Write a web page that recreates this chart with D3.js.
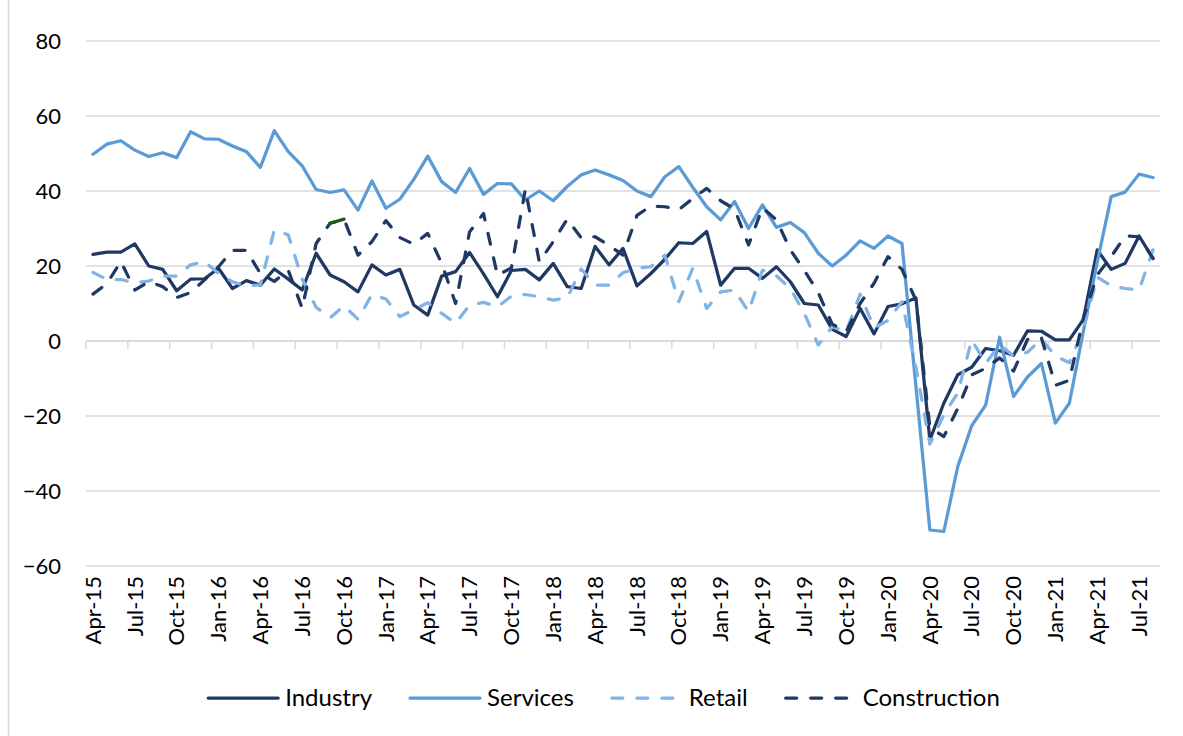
<!DOCTYPE html>
<html>
<head>
<meta charset="utf-8">
<script src="https://cdn.jsdelivr.net/npm/d3@7"></script>
<style>
    body { margin: 0; background: #fff; }
    svg text { font-family: Lato, "Open Sans", sans-serif; fill: #000; }
</style>
</head>
<body>
<svg id="chart" width="1183" height="736"></svg>
<script>
//monthly categories, Apr-15 to Aug-21
const months = [
    "Apr-15","May-15","Jun-15","Jul-15","Aug-15","Sep-15","Oct-15","Nov-15","Dec-15",
    "Jan-16","Feb-16","Mar-16","Apr-16","May-16","Jun-16","Jul-16","Aug-16","Sep-16","Oct-16","Nov-16","Dec-16",
    "Jan-17","Feb-17","Mar-17","Apr-17","May-17","Jun-17","Jul-17","Aug-17","Sep-17","Oct-17","Nov-17","Dec-17",
    "Jan-18","Feb-18","Mar-18","Apr-18","May-18","Jun-18","Jul-18","Aug-18","Sep-18","Oct-18","Nov-18","Dec-18",
    "Jan-19","Feb-19","Mar-19","Apr-19","May-19","Jun-19","Jul-19","Aug-19","Sep-19","Oct-19","Nov-19","Dec-19",
    "Jan-20","Feb-20","Mar-20","Apr-20","May-20","Jun-20","Jul-20","Aug-20","Sep-20","Oct-20","Nov-20","Dec-20",
    "Jan-21","Feb-21","Mar-21","Apr-21","May-21","Jun-21","Jul-21","Aug-21"
];

const industry = [
    23.1, 23.7, 23.7, 25.9, 20.0, 19.1, 13.4, 16.5, 16.6,
    19.4, 14.0, 16.1, 14.9, 19.2, 16.5, 13.6, 23.4, 17.6, 15.8, 13.1, 20.3,
    17.6, 19.1, 9.6, 6.9, 17.3, 18.5, 23.6, 17.9, 11.8, 18.8, 19.1, 16.3,
    20.7, 14.5, 14.0, 25.2, 20.3, 24.7, 14.7, 18.0, 21.8, 26.2, 26.0, 29.2,
    14.9, 19.4, 19.4, 16.7, 19.8, 15.8, 10.0, 9.6, 3.1, 1.2, 8.7, 1.9,
    9.2, 9.9, 11.5, -26.4, -16.6, -9.0, -7.0, -2.0, -2.6, -3.8, 2.7, 2.6,
    0.3, 0.3, 5.7, 24.3, 19.1, 20.7, 28.0, 22.0
];

const services = [
    49.8, 52.5, 53.4, 50.9, 49.2, 50.2, 48.9, 55.8, 53.9,
    53.8, 52.0, 50.5, 46.3, 56.1, 50.5, 46.7, 40.4, 39.6, 40.3, 34.9, 42.7,
    35.4, 37.8, 43.1, 49.3, 42.5, 39.6, 46.0, 39.1, 42.0, 41.9, 37.6, 40.0,
    37.4, 41.2, 44.3, 45.6, 44.3, 42.8, 40.0, 38.5, 43.8, 46.5, 41.0, 35.8,
    32.3, 37.2, 30.0, 36.3, 30.3, 31.6, 28.9, 23.4, 20.0, 22.9, 26.7, 24.7,
    28.0, 26.0, -12.0, -50.4, -50.8, -33.5, -22.6, -17.1, 1.0, -14.8, -9.6, -6.0,
    -21.9, -16.6, 2.5, 21.0, 38.5, 39.7, 44.5, 43.6
];

const retail = [
    18.3, 16.4, 16.4, 15.5, 16.0, 17.3, 17.3, 20.3, 21.2,
    18.0, 15.8, 14.7, 15.0, 29.6, 28.3, 16.5, 9.0, 6.2, 9.4, 5.8, 12.4,
    11.2, 6.5, 8.3, 10.2, 7.4, 4.7, 9.6, 10.3, 9.1, 12.0, 12.4, 11.8,
    10.9, 11.5, 19.2, 14.9, 14.9, 18.2, 19.4, 19.8, 22.9, 10.5, 19.4, 8.7,
    13.1, 13.6, 7.8, 18.9, 17.4, 14.0, 7.4, -1.1, 3.8, 2.5, 12.5, 3.5,
    5.5, 10.5, -7.0, -27.5, -19.7, -13.9, 0.3, -6.0, -1.0, -4.0, -3.0, 0.5,
    -4.0, -5.8, 3.0, 17.0, 14.7, 14.0, 13.6, 24.3
];

const construction = [
    12.5, 15.3, 21.2, 13.6, 15.8, 14.5, 11.6, 12.9, 16.3,
    19.8, 24.2, 24.2, 18.0, 15.9, 18.9, 8.7, 26.0, 31.4, 32.5, 22.9, 26.5,
    32.1, 27.6, 25.8, 28.7, 20.7, 10.0, 29.1, 34.0, 17.5, 19.5, 40.5, 21.1,
    26.5, 32.5, 27.5, 27.8, 25.5, 22.9, 33.5, 36.0, 35.8, 35.0, 38.0, 40.7,
    37.4, 35.2, 25.6, 35.5, 32.3, 24.3, 18.8, 12.9, 4.5, 2.5, 10.0, 15.4,
    22.5, 19.1, 10.9, -23.0, -25.5, -18.0, -9.0, -7.3, -4.5, -8.0, 0.4, 0.8,
    -11.8, -10.5, 6.0, 17.6, 22.5, 28.0, 27.8, 22.0
];

const yTicks = [-60, -40, -20, 0, 20, 40, 60, 80];

//Class for the business survey line chart
class SurveyChart {

    constructor() {
        this.svg = d3.select("#chart");
        this.left = 86;
        this.right = 1160;
        this.top = 41;
        this.bottom = 566;
        this.gridColor = "#d9d9d9";
        this.x = d3.scaleBand().domain(months).range([this.left, this.right]);
        this.y = d3.scaleLinear().domain([-60, 80]).range([this.bottom, this.top]);
        this.series = [
            {name: "Industry", values: industry, color: "#203864", dash: null},
            {name: "Services", values: services, color: "#5b9bd5", dash: null},
            {name: "Retail", values: retail, color: "#80b3e6", dash: "11,14"},
            {name: "Construction", values: construction, color: "#203864", dash: "11,14"}
        ];
    }

    xMid(i) {
        return this.x(months[i]) + this.x.bandwidth() / 2;
    }

    drawFrame() {
        //left edge of the chart border
        this.svg.append("line")
            .attr("x1", 8.5).attr("x2", 8.5)
            .attr("y1", 0).attr("y2", 736)
            .attr("stroke", this.gridColor)
            .attr("stroke-width", 1.5);
    }

    drawGrid() {
        let y = this.y;
        this.svg.append("g")
            .attr("id", "gridG")
            .selectAll("line")
            .data(yTicks)
            .enter()
            .append("line")
            .attr("x1", this.left)
            .attr("x2", this.right)
            .attr("y1", d => y(d))
            .attr("y2", d => y(d))
            .attr("stroke", this.gridColor)
            .attr("stroke-width", 1.5);

        let yAxis = d3.axisLeft(y).tickValues(yTicks).tickSize(0).tickPadding(0);
        let yG = this.svg.append("g")
            .attr("transform", "translate(61,0)")
            .call(yAxis);
        yG.select(".domain").remove();
        yG.selectAll("text")
            .style("font-family", "Lato, 'Open Sans', sans-serif")
            .style("font-size", "22px")
            .attr("fill", "#000");
    }

    drawCategoryAxis() {
        let self = this;
        let zeroY = this.y(0);
        let axisG = this.svg.append("g").attr("id", "xAxisG");

        axisG.append("line")
            .attr("x1", this.left).attr("x2", this.right)
            .attr("y1", zeroY).attr("y2", zeroY)
            .attr("stroke", this.gridColor)
            .attr("stroke-width", 1.5);

        let every3 = months.filter((m, i) => i % 3 === 0);

        //tick marks sit on the boundaries between categories
        axisG.selectAll("line.tick")
            .data(every3)
            .enter()
            .append("line")
            .attr("class", "tick")
            .attr("x1", d => self.x(d))
            .attr("x2", d => self.x(d))
            .attr("y1", zeroY)
            .attr("y2", zeroY + 8)
            .attr("stroke", this.gridColor)
            .attr("stroke-width", 1.5);

        //labels at the bottom, rotated
        axisG.selectAll("text")
            .data(every3)
            .enter()
            .append("text")
            .attr("transform", d => "translate(" + (self.x(d) + self.x.bandwidth() / 2) + "," + (this.bottom + 10) + ") rotate(-90)")
            .attr("text-anchor", "end")
            .attr("dy", "0.35em")
            .style("font-size", "22px")
            .text(d => d);
    }

    drawLines() {
        let self = this;
        let line = d3.line()
            .x((d, i) => self.xMid(i))
            .y(d => self.y(d));

        let linesG = this.svg.append("g").attr("id", "linesG");
        linesG.selectAll("path")
            .data(this.series)
            .enter()
            .append("path")
            .attr("d", d => line(d.values))
            .attr("fill", "none")
            .attr("stroke", d => d.color)
            .attr("stroke-width", 3.25)
            .attr("stroke-linejoin", "round")
            .attr("stroke-linecap", "round")
            .attr("stroke-dasharray", d => d.dash);

        //one construction segment is coloured green in the original
        let seg = [17, 18];
        linesG.append("path")
            .attr("d", d3.line()
                .x(i => self.xMid(i))
                .y(i => self.y(construction[i]))(seg))
            .attr("fill", "none")
            .attr("stroke", "#1e5c14")
            .attr("stroke-width", 3.25)
            .attr("stroke-linecap", "round");
    }

    drawLegend() {
        let legendY = 698;
        let lineLen = 70;
        let spacing = 38;
        let legendG = this.svg.append("g").attr("id", "legendG");

        let items = legendG.selectAll("g")
            .data(this.series)
            .enter()
            .append("g");

        items.append("line")
            .attr("x1", 0).attr("x2", lineLen)
            .attr("y1", 0).attr("y2", 0)
            .attr("stroke", d => d.color)
            .attr("stroke-width", 3.25)
            .attr("stroke-linecap", "round")
            .attr("stroke-dasharray", d => d.dash);

        items.append("text")
            .attr("x", lineLen + 7)
            .attr("dy", "0.35em")
            .style("font-size", "24px")
            .text(d => d.name);

        //lay out items in a row, centred
        let widths = [];
        items.each(function () {
            widths.push(lineLen + 7 + d3.select(this).select("text").node().getComputedTextLength());
        });
        let total = d3.sum(widths) + spacing * (widths.length - 1);
        let pos = 604 - total / 2;
        items.attr("transform", function (d, i) {
            let t = "translate(" + pos + "," + legendY + ")";
            pos += widths[i] + spacing;
            return t;
        });
    }

    draw() {
        this.drawFrame();
        this.drawGrid();
        this.drawCategoryAxis();
        this.drawLines();
        this.drawLegend();
    }
}

let chart = new SurveyChart();
chart.draw();
</script>
</body>
</html>
